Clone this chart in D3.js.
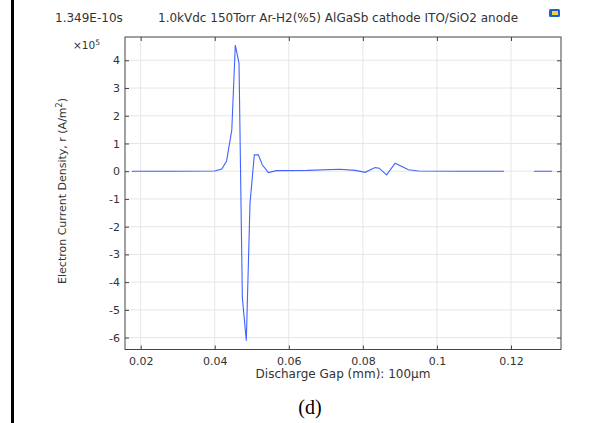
<!DOCTYPE html>
<meta charset="utf-8">
<head>
<style>
  body { margin: 0; background: #fff; }
  svg text { font-family: "DejaVu Sans", sans-serif; fill: #333; }
</style>
</head>
<body>
<svg id="chart"></svg>
<script src="https://d3js.org/d3.v7.min.js"></script>
<script>

// data (x in mm, y in 1e5 A/m^2), null = gap in the curve
var gapX = [0.0176, 0.030, 0.040, 0.0419, 0.0432, 0.0446, 0.04555, 0.04655, 0.04745, 0.04852,
            0.04952, 0.05068, 0.05176, 0.05284, 0.05446, 0.0567, 0.065, 0.0738, 0.078, 0.0806,
            0.0833, 0.0844, 0.0864, 0.0887, 0.0905, 0.0923, 0.095, 0.105, 0.1181, 0.122,
            0.1262, 0.1311];
var density = [0, 0, 0.01, 0.08, 0.37, 1.49, 4.55, 3.89, -4.57, -6.11,
               -1.15, 0.59, 0.59, 0.23, -0.05, 0.02, 0.03, 0.07, 0.03, -0.04,
               0.13, 0.11, -0.13, 0.29, 0.17, 0.05, 0.01, 0, 0, null,
               0, 0];

var xTicks = [0.02, 0.04, 0.06, 0.08, 0.1, 0.12];
var xTickLabels = ["0.02", "0.04", "0.06", "0.08", "0.1", "0.12"];
var yTicks = [-6, -5, -4, -3, -2, -1, 0, 1, 2, 3, 4];
var yTickLabels = ["-6", "-5", "-4", "-3", "-2", "-1", "0", "1", "2", "3", "4"];

var timeLabel = "1.349E-10s";
var titleText = "1.0kVdc 150Torr Ar-H2(%5) AlGaSb cathode ITO/SiO2 anode";

var W = 608, H = 423;
var plot = {left: 125, top: 37, right: 561, bottom: 349.5};

var svg = d3.select("#chart").attr("width", W).attr("height", H);

// black bar on the left edge of the figure
svg.append("rect").attr("x", 11).attr("y", 0).attr("width", 3).attr("height", H).attr("fill", "#000");

var x = d3.scaleLinear().domain([0.01576, 0.1335]).range([plot.left, plot.right]);
var y = d3.scaleLinear().domain([-6.43, 4.84]).range([plot.bottom, plot.top]);

// grid
svg.append("g").selectAll("line").data(xTicks).enter().append("line")
    .attr("x1", d => x(d)).attr("x2", d => x(d))
    .attr("y1", plot.top).attr("y2", plot.bottom)
    .attr("stroke", "#e6e6e6").attr("stroke-width", 1);
svg.append("g").selectAll("line").data(yTicks).enter().append("line")
    .attr("x1", plot.left).attr("x2", plot.right)
    .attr("y1", d => y(d)).attr("y2", d => y(d))
    .attr("stroke", "#e6e6e6").attr("stroke-width", 1);

// curve
var pts = gapX.map(function(v, i) { return {x: v, y: density[i]}; });
var line = d3.line()
    .defined(d => d.y !== null)
    .x(d => x(d.x))
    .y(d => y(d.y));
svg.append("path").datum(pts)
    .attr("d", line)
    .attr("fill", "none")
    .attr("stroke", "#4263ff")
    .attr("stroke-width", 1.1);

// axes, ticks pointing inwards on all four sides
function fmt(ticks, labels) { return function(d) { return labels[ticks.indexOf(d)]; }; }

var xb = svg.append("g").attr("transform", "translate(0," + plot.bottom + ")")
    .call(d3.axisBottom(x).tickValues(xTicks).tickFormat(fmt(xTicks, xTickLabels)).tickSizeInner(-4).tickSizeOuter(0).tickPadding(8));
var xt = svg.append("g").attr("transform", "translate(0," + plot.top + ")")
    .call(d3.axisTop(x).tickValues(xTicks).tickFormat("").tickSizeInner(-4).tickSizeOuter(0));
var yl = svg.append("g").attr("transform", "translate(" + plot.left + ",0)")
    .call(d3.axisLeft(y).tickValues(yTicks).tickFormat(fmt(yTicks, yTickLabels)).tickSizeInner(-4).tickSizeOuter(0).tickPadding(5));
var yr = svg.append("g").attr("transform", "translate(" + plot.right + ",0)")
    .call(d3.axisRight(y).tickValues(yTicks).tickFormat("").tickSizeInner(-4).tickSizeOuter(0));

[xb, xt, yl, yr].forEach(function(g) {
  g.select(".domain").remove();
  g.selectAll(".tick line").attr("stroke", "#444");
  g.selectAll(".tick text").attr("fill", "#333").style("font-size", "11px").style("font-family", "DejaVu Sans, sans-serif");
});

svg.append("rect")
    .attr("x", plot.left).attr("y", plot.top)
    .attr("width", plot.right - plot.left).attr("height", plot.bottom - plot.top)
    .attr("fill", "none").attr("stroke", "#444").attr("stroke-width", 1);

// x10^5 multiplier
var mult = svg.append("text").attr("x", 73).attr("y", 49).style("font-size", "10.5px");
mult.append("tspan").text("\u00d710");
mult.append("tspan").attr("dy", -4).style("font-size", "7.5px").text("5");

// title line
svg.append("text").attr("x", 55).attr("y", 22).style("font-size", "12px").text(timeLabel);
svg.append("text").attr("x", 158).attr("y", 22).style("font-size", "12px").text(titleText);

// little window icon top right
svg.append("rect").attr("x", 549).attr("y", 9).attr("width", 11).attr("height", 8).attr("rx", 1.5)
    .attr("fill", "#1f5fd6");
svg.append("rect").attr("x", 552).attr("y", 11).attr("width", 6).attr("height", 4)
    .attr("fill", "#f2d23a");

// axis labels
var yLab = svg.append("text")
    .attr("transform", "translate(66,191) rotate(-90)")
    .attr("text-anchor", "middle")
    .style("font-size", "11px");
yLab.append("tspan").text("Electron Current Density, r (A/m");
yLab.append("tspan").attr("dy", -4).style("font-size", "8px").text("2");
yLab.append("tspan").attr("dy", 4).text(")");

svg.append("text").attr("x", 343).attr("y", 378).attr("text-anchor", "middle")
    .style("font-size", "12px").text("Discharge Gap (mm): 100\u03bcm");

svg.append("text").attr("x", 310).attr("y", 414).attr("text-anchor", "middle")
    .style("font-family", "Liberation Serif, serif").style("font-size", "20px").style("fill", "#000")
    .text("(d)");

</script>
</body>
